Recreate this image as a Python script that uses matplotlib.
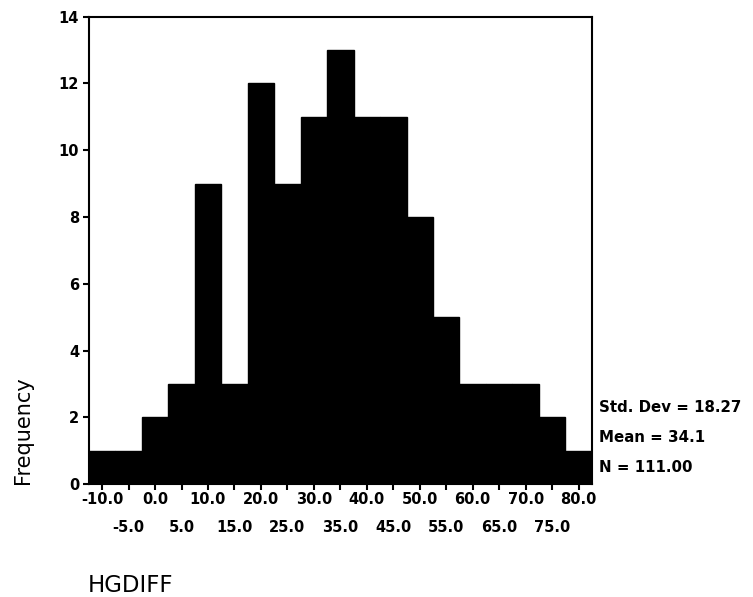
import numpy as np
import matplotlib
matplotlib.use('Agg')
import matplotlib.pyplot as plt
from matplotlib.transforms import blended_transform_factory

plt.rcParams['font.family'] = ['DejaVu Sans']

# bin centers (width 5) and counts
centers = [-10, -5, 0, 5, 10, 15, 20, 25, 30, 35, 40, 45, 50, 55, 60, 65, 70, 75, 80]
counts = [1, 1, 2, 3, 9, 3, 12, 9, 11, 13, 11, 11, 8, 5, 3, 3, 3, 2, 1]
stats = ['Std. Dev = 18.27', 'Mean = 34.1', 'N = 111.00']

fig = plt.figure(figsize=(7.53, 5.97), dpi=100)
ax = fig.add_axes([0.118, 0.189, 0.668, 0.783])

ax.bar(centers, counts, width=5, color='black', edgecolor='black', linewidth=1)

ax.set_xlim(-12.5, 82.5)
ax.set_ylim(0, 14)
ax.set_yticks(np.arange(0, 15, 2))
ax.set_yticklabels([str(v) for v in range(0, 15, 2)], fontsize=10.5, fontweight='bold')

# x tick marks at every bin, labels on two staggered rows
ax.set_xticks(centers)
ax.set_xticklabels([])
trans = blended_transform_factory(ax.transData, fig.transFigure)
for i, c in enumerate(centers):
    y = (597 - 500) / 597 if i % 2 == 0 else (597 - 528) / 597
    ax.text(c, y, '%.1f' % c, transform=trans, fontsize=10.5, fontweight='bold',
            ha='center', va='center')

ax.tick_params(axis='both', direction='out', length=4, width=1.5, pad=3)
for sp in ax.spines.values():
    sp.set_linewidth(1.5)

# labels
fig.text(0.03, (597 - 430) / 597, 'Frequency', rotation=90, fontsize=15, va='center', ha='center')
fig.text(0.117, (597 - 585) / 597, 'HGDIFF', fontsize=16.5, ha='left', va='center')

# stats text
for i, s in enumerate(stats):
    fig.text(0.795, (597 - 407 - i * 30) / 597, s, fontsize=10.8, fontweight='bold',
             ha='left', va='center')

fig.savefig('out.png', dpi=100)
